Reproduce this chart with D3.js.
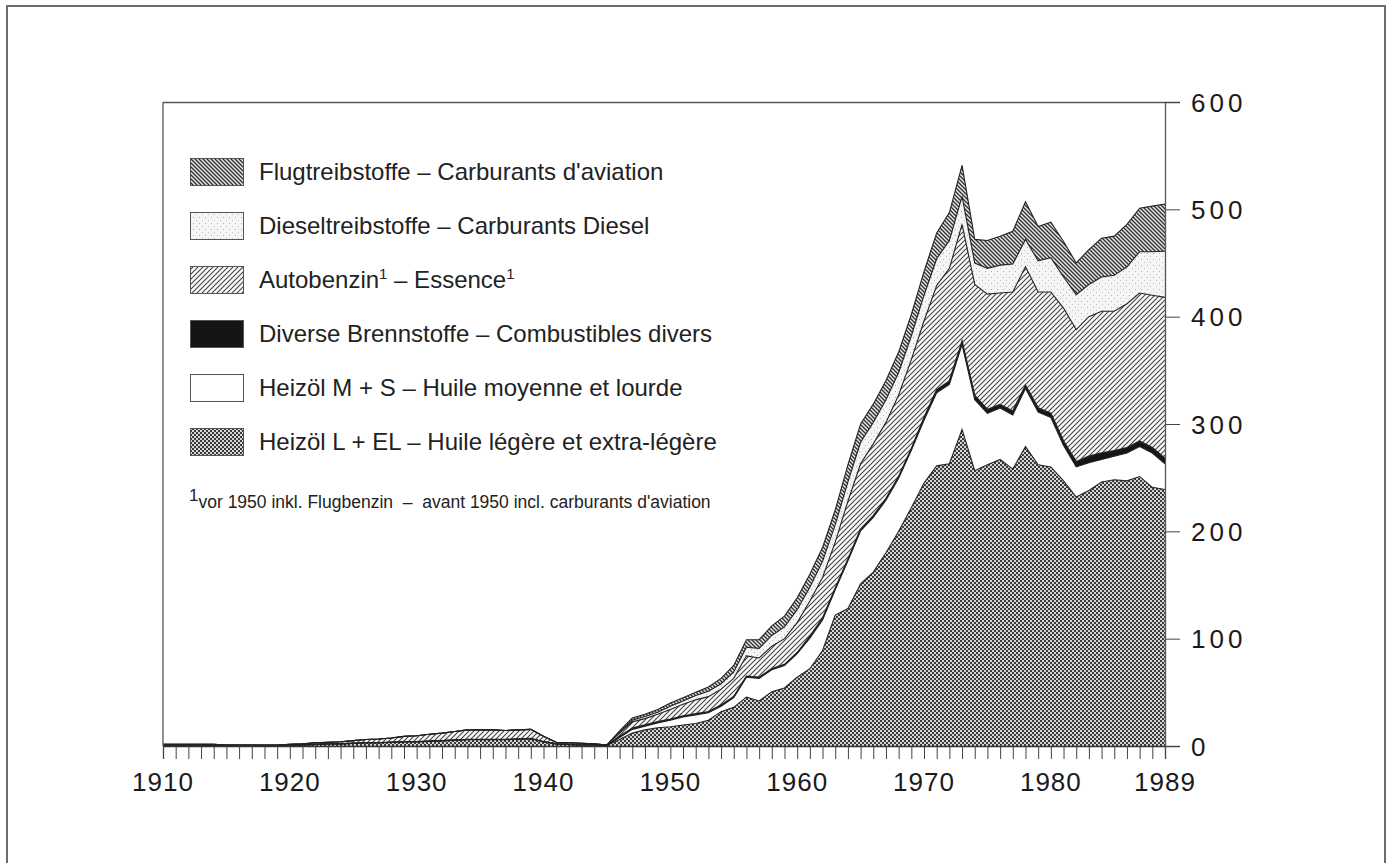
<!DOCTYPE html>
<html><head><meta charset="utf-8">
<script src="https://cdn.jsdelivr.net/npm/d3@7"></script>
<style>body{margin:0;background:#fff}svg{display:block}</style>
</head><body>
<script>
const years = [1910,1911,1912,1913,1914,1915,1916,1917,1918,1919,1920,1921,1922,1923,1924,1925,1926,1927,1928,1929,1930,1931,1932,1933,1934,1935,1936,1937,1938,1939,1940,1941,1942,1943,1944,1945,1946,1947,1948,1949,1950,1951,1952,1953,1954,1955,1956,1957,1958,1959,1960,1961,1962,1963,1964,1965,1966,1967,1968,1969,1970,1971,1972,1973,1974,1975,1976,1977,1978,1979,1980,1981,1982,1983,1984,1985,1986,1987,1988,1989];

const heizoelLEL = [0.5,0.5,0.5,0.5,0.5,0.5,0.5,0.5,0.3,0.3, 0.5,1,1.5,2,2,2.5,3,3,3.5,4, 4,4.5,5,5.5,6,6,6,6,6.5,7, 4,2,1.5,1,1,0.5,
 6,12,15,17,18,19.5,21,24,32,36,45.5,42,50.5,54,64,72,89,122,128,151,162,180,200,222,245,261,263,295,256.5,262,267,258,279,262,260,247,232,238,246,248,247,251,241,239];
const heizoelMS = [0,0,0,0,0,0,0,0,0,0, 0,0,0,0,0,0,0,0,0,0, 0,0,0,0,0,0,0,0,0,0, 0,0,0,0,0,0,
 2,3.5,3.5,4.5,6,7.5,8,7,5,9,18.5,21,20.5,21,22,28.5,28.5,23.5,44.5,49.5,51,49,49.5,53.5,58.5,68,74,79,66,48,48,50.5,54,49,46,33,28,26,21,22,26,28,32,24];
const diverse = [0,0,0,0,0,0,0,0,0,0, 0,0,0,0,0,0,0,0,0,0, 0,0,0,0,0,0,0,0,0,0, 0,0,0,0,0,0,
 1,1,1,1,1,1,1,1,1,1,1,1,1,1,1, 1.5,1.5,1.5,1.5,1.5,1.5,1.5,1.5,1.5, 2.5,3,3,3,4,3.5,3,3.5,3,4,4, 4,5,6,6,5,5,5,5,5];
const autobenzin = [1,1,1,1,1,0.5,0.5,0.5,0.5,0.5, 1,1,1.5,1.5,2,2.5,3,3.5,4,5, 5.5,6.5,7,8,9,9,9,8.5,8.5,8.5, 5,1.5,1.5,1.5,1,0.5,
 3,6,6,7,9,11,13,14,15,17,19,18,21,24,28,33,38,43,54,61,67,71,76,83,90,97,105,109,103.5,107.5,104,111,110.5,108,113,124,123,130,132,130,134,138,142,150];
const diesel = [0,0,0,0,0,0,0,0,0,0, 0,0,0,0,0,0,0,0,0,0, 0,0,0,0,0,0,0,0,0,0, 0,0,0,0,0,0,
 1,1.5,2,2,3,3,4,5,5,6,8,9,10,11,12,13,15,16,18,20,20,21,21,22,24,25,26,26,20,24,26,26,25.5,29,32,29,32.5,30,32,33.5,34.5,38.5,40.5,43];
const flug = [0,0,0,0,0,0,0,0,0,0, 0,0,0,0,0,0,0,0,0,0, 0,0,0,0,0,0,0,0,0,0, 0,0,0,0,0,0,
 1,2,2,2.5,3,3,3,4,5,6,7,8,9,10,11,12,13,14,16,17,17,18,19,20,22,24,26,29,22,26,27,30.5,35,32,33,33,29.5,32.5,36,36.5,39.5,40.5,42.5,44];

const seriesKeys = ["lel","ms","div","benz","diesel","flug"];
const legendLabels = [
  {key:"flug", text:"Flugtreibstoffe – Carburants d'aviation"},
  {key:"diesel", text:"Dieseltreibstoffe – Carburants Diesel"},
  {key:"benz", text:"Autobenzin|1| – Essence|1|"},
  {key:"div", text:"Diverse Brennstoffe – Combustibles divers"},
  {key:"ms", text:"Heizöl M + S – Huile moyenne et lourde"},
  {key:"lel", text:"Heizöl L + EL – Huile légère et extra-légère"}
];
const footnote = "vor 1950 inkl. Flugbenzin  –  avant 1950 incl. carburants d'aviation";
const xTicks = [1910,1920,1930,1940,1950,1960,1970,1980,1989];
const yTicks = [0,100,200,300,400,500,600];

const W = 1391, H = 863;
const svg = d3.select("body").append("svg").attr("width", W).attr("height", H);
const defs = svg.append("defs");

const pChk = defs.append("pattern").attr("id","p-lel").attr("patternUnits","userSpaceOnUse").attr("width",4).attr("height",4);
pChk.append("rect").attr("width",4).attr("height",4).attr("fill","#d6d6d6");
pChk.append("rect").attr("width",2).attr("height",2).attr("fill","#3a3a3a");
pChk.append("rect").attr("x",2).attr("y",2).attr("width",2).attr("height",2).attr("fill","#3a3a3a");

const pFlug = defs.append("pattern").attr("id","p-flug").attr("patternUnits","userSpaceOnUse").attr("width",4).attr("height",4);
pFlug.append("rect").attr("width",4).attr("height",4).attr("fill","#e6e6e6");
pFlug.append("path").attr("d","M-1,-1 L5,5 M-1,3 L1,5 M3,-1 L5,1").attr("stroke","#2e2e2e").attr("stroke-width",1.3);

const pBenz = defs.append("pattern").attr("id","p-benz").attr("patternUnits","userSpaceOnUse").attr("width",5).attr("height",5);
pBenz.append("rect").attr("width",5).attr("height",5).attr("fill","#fafafa");
pBenz.append("path").attr("d","M-1,6 L6,-1 M-1,1 L1,-1 M4,6 L6,4").attr("stroke","#444").attr("stroke-width",1.1);

const pDiesel = defs.append("pattern").attr("id","p-diesel").attr("patternUnits","userSpaceOnUse").attr("width",6).attr("height",6);
pDiesel.append("rect").attr("width",6).attr("height",6).attr("fill","#f5f5f5");
pDiesel.append("rect").attr("x",1).attr("y",1).attr("width",1).attr("height",1).attr("fill","#b0b0b0");
pDiesel.append("rect").attr("x",4).attr("y",4).attr("width",1).attr("height",1).attr("fill","#c0c0c0");

const fills = {lel:"url(#p-lel)", ms:"#ffffff", div:"#151515", benz:"url(#p-benz)", diesel:"url(#p-diesel)", flug:"url(#p-flug)"};

svg.append("rect").attr("x",7).attr("y",6).attr("width",1378).attr("height",900)
  .attr("fill","none").attr("stroke","#6b6b6b").attr("stroke-width",2);

const x = d3.scaleLinear().domain([1910,1989]).range([163,1165]);
const y = d3.scaleLinear().domain([0,600]).range([746,102]);

const rows = years.map((yr,i)=>({year:yr, lel:heizoelLEL[i], ms:heizoelMS[i], div:diverse[i], benz:autobenzin[i], diesel:diesel[i], flug:flug[i]}));
const layers = d3.stack().keys(seriesKeys)(rows);

const area = d3.area().x(d=>x(d.data.year)).y0(d=>y(d[0])).y1(d=>y(d[1]));
const line = d3.line().x(d=>x(d.data.year)).y(d=>y(d[1]));

const g = svg.append("g");
g.selectAll("path.area").data(layers).join("path").attr("class","area")
  .attr("d",area).attr("fill",d=>fills[d.key]).attr("stroke","none");
g.selectAll("path.top").data(layers).join("path").attr("class","top")
  .attr("d",line).attr("fill","none").attr("stroke","#222").attr("stroke-width",d=>d.key==="div"?1.5:1.1);

svg.append("line").attr("x1",163).attr("x2",1165).attr("y1",102.5).attr("y2",102.5).attr("stroke","#555").attr("stroke-width",1.3);
svg.append("line").attr("x1",163).attr("x2",163).attr("y1",102).attr("y2",746).attr("stroke","#555").attr("stroke-width",1.3);

const xAxis = d3.axisBottom(x).tickValues(years).tickSize(13).tickFormat("");
const gx = svg.append("g").attr("transform","translate(0,746)").call(xAxis);
gx.select(".domain").attr("stroke","#333").attr("stroke-width",1.3);
gx.selectAll(".tick line").attr("stroke","#444").attr("stroke-width",1);
svg.append("g").selectAll("text").data(xTicks).join("text")
  .attr("x",d=>x(d)).attr("y",791).attr("text-anchor","middle")
  .attr("font-family","'Liberation Sans', Arial, sans-serif").attr("font-size",26).attr("letter-spacing",1)
  .attr("fill","#1a1a1a").text(d=>d);

const yAxis = d3.axisRight(y).tickValues(yTicks).tickSize(15).tickFormat("");
const gy = svg.append("g").attr("transform","translate(1165,0)").call(yAxis);
gy.select(".domain").attr("stroke","#555").attr("stroke-width",1.3);
gy.selectAll(".tick line").attr("stroke","#444");
svg.append("g").selectAll("text").data(yTicks).join("text")
  .attr("x",1191).attr("y",d=>y(d)+9.5).attr("text-anchor","start")
  .attr("font-family","'Liberation Sans', Arial, sans-serif").attr("font-size",26).attr("letter-spacing",4)
  .attr("fill","#1a1a1a").text(d=>d);

const lg = svg.append("g");
legendLabels.forEach((d,i)=>{
  const yy = 158 + i*54;
  lg.append("rect").attr("x",190.5).attr("y",yy+0.5).attr("width",53).attr("height",27)
    .attr("fill",fills[d.key]).attr("stroke","#555").attr("stroke-width",1);
  const t = lg.append("text").attr("x",259).attr("y",yy+22)
    .attr("font-family","'Liberation Sans', Arial, sans-serif").attr("font-size",24).attr("fill","#222");
  d.text.split("|").forEach((part,j)=>{
    if (j%2===1) t.append("tspan").attr("font-size",15).attr("dy",-9).text(part);
    else t.append("tspan").attr("dy", j>0?9:0).text(part);
  });
});
const fn = svg.append("text").attr("x",189).attr("y",508).attr("xml:space","preserve").style("white-space","pre")
  .attr("font-family","'Liberation Sans', Arial, sans-serif").attr("font-size",17.5).attr("fill","#222");
fn.append("tspan").attr("font-size",17).attr("dy",-7).text("1");
fn.append("tspan").attr("dy",7).text(footnote);
</script>
</body></html>
